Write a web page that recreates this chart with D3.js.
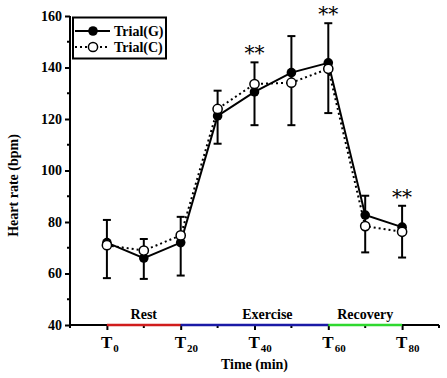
<!DOCTYPE html>
<html>
<head>
<meta charset="utf-8">
<script src="https://cdn.jsdelivr.net/npm/d3@7"></script>
<style>
  html, body { margin: 0; padding: 0; background: #fff; }
  svg { display: block; font-family: "Liberation Serif", "Times New Roman", serif; }
</style>
</head>
<body>
<svg id="chart" width="447" height="378"></svg>
<script>
// ---- data ----
const times = [0, 10, 20, 30, 40, 50, 60, 70, 80];
const trialG = [72, 66, 72, 121.2, 130.5, 138, 141.8, 82.7, 78];
const trialC = [71, 68.9, 74.8, 123.9, 133.6, 134.1, 139.5, 78.4, 76.2];
const errHigh = [80.8, 73.4, 82, 131, 142, 152.2, 157.2, 90.2, 86.3];
const errLow = [58.2, 57.9, 59.2, 110.4, 117.6, 117.6, 122.3, 68.2, 66.2];
const sigTimes = [40, 60, 80];
const xMajorTicks = [0, 20, 40, 60, 80];
const xMinorTicks = [-10, 10, 30, 50, 70, 90];
const xTickSubs = ["0", "20", "40", "60", "80"];
const yMajorTicks = [40, 60, 80, 100, 120, 140, 160];
const yMinorTicks = [50, 70, 90, 110, 130, 150];
const phaseNames = ["Rest", "Exercise", "Recovery"];
const phaseStart = [0, 20, 60];
const phaseEnd = [20, 60, 80];
const phaseLabelAt = [10, 43.5, 70];
const phaseColors = ["#d01c1c", "#1a1aa6", "#2fd82f"];
const seriesNames = ["Trial(G)", "Trial(C)"];

// ---- scales ----
const svg = d3.select("#chart");
const x = d3.scaleLinear().domain([-10, 90]).range([70, 439]);
const y = d3.scaleLinear().domain([40, 160]).range([325, 16]);

// ---- axes ----
const yAxis = svg.append("g").attr("transform", `translate(${x(-10)},0)`)
  .call(d3.axisLeft(y).tickValues(yMajorTicks).tickSize(5).tickPadding(3).tickFormat(d3.format("d")));
yAxis.select(".domain").attr("stroke", "#000").attr("stroke-width", 2).attr("d", `M0,${y(40)}V${y(160)}`);
yAxis.selectAll(".tick line").attr("stroke-width", 2);
yAxis.selectAll(".tick text").attr("font-size", 14).attr("font-weight", "bold").attr("fill", "#000")
  .attr("font-family", "Liberation Serif, serif");
svg.append("g").selectAll("line").data(yMinorTicks).join("line")
  .attr("x1", x(-10) - 3).attr("x2", x(-10)).attr("y1", d => y(d)).attr("y2", d => y(d))
  .attr("stroke", "#000").attr("stroke-width", 2);

const xAxis = svg.append("g").attr("transform", `translate(0,${y(40)})`)
  .call(d3.axisBottom(x).tickValues(xMajorTicks).tickSize(5).tickFormat(""));
xAxis.select(".domain").attr("stroke", "#000").attr("stroke-width", 2).attr("d", `M${x(-10)},0H${x(90)}`);
xAxis.selectAll(".tick line").attr("stroke-width", 2);
svg.append("g").selectAll("line").data(xMinorTicks).join("line")
  .attr("x1", d => x(d)).attr("x2", d => x(d)).attr("y1", y(40)).attr("y2", y(40) + 3)
  .attr("stroke", "#000").attr("stroke-width", 2);

// x tick labels T with subscripts
const xl = svg.append("g");
xMajorTicks.forEach((t, i) => {
  const txt = xl.append("text").attr("x", x(t) - 6).attr("y", 348)
    .attr("font-weight", "bold").attr("fill", "#000");
  txt.append("tspan").attr("font-size", 17).text("T");
  txt.append("tspan").attr("font-size", 11).attr("dy", 4).attr("dx", 1).text(xTickSubs[i]);
});

// axis titles
svg.append("text").attr("x", (x(-10) + x(90)) / 2).attr("y", 369).attr("text-anchor", "middle")
  .attr("font-size", 14).attr("font-weight", "bold").text("Time (min)");
svg.append("text").attr("transform", `translate(18,${(y(40) + y(160)) / 2 + 15}) rotate(-90)`)
  .attr("text-anchor", "middle").attr("font-size", 14).attr("font-weight", "bold").text("Heart rate (bpm)");

// phase bars
const ph = svg.append("g");
phaseNames.forEach((name, i) => {
  ph.append("line").attr("x1", x(phaseStart[i])).attr("x2", x(phaseEnd[i]))
    .attr("y1", y(40)).attr("y2", y(40)).attr("stroke", phaseColors[i]).attr("stroke-width", 2.5);
  ph.append("text").attr("x", x(phaseLabelAt[i])).attr("y", 319).attr("text-anchor", "middle")
    .attr("font-size", 14).attr("font-weight", "bold").text(name);
});

// ---- series ----
const dataG = times.map((t, i) => ({ t, v: trialG[i] }));
const dataC = times.map((t, i) => ({ t, v: trialC[i] }));
const line = d3.line().x(d => x(d.t)).y(d => y(d.v));

svg.append("path").datum(dataC).attr("d", line).attr("fill", "none")
  .attr("stroke", "#000").attr("stroke-width", 2).attr("stroke-dasharray", "2,3");
svg.append("path").datum(dataG).attr("d", line).attr("fill", "none")
  .attr("stroke", "#000").attr("stroke-width", 2);

// error bars
const eb = svg.append("g").attr("stroke", "#000").attr("stroke-width", 2);
times.forEach((t, i) => {
  eb.append("line").attr("x1", x(t)).attr("x2", x(t)).attr("y1", y(errLow[i])).attr("y2", y(errHigh[i]));
  eb.append("line").attr("x1", x(t) - 4).attr("x2", x(t) + 4).attr("y1", y(errLow[i])).attr("y2", y(errLow[i]));
  eb.append("line").attr("x1", x(t) - 4).attr("x2", x(t) + 4).attr("y1", y(errHigh[i])).attr("y2", y(errHigh[i]));
});

svg.append("g").selectAll("circle").data(dataG).join("circle")
  .attr("cx", d => x(d.t)).attr("cy", d => y(d.v)).attr("r", 4.8).attr("fill", "#000");
svg.append("g").selectAll("circle").data(dataC).join("circle")
  .attr("cx", d => x(d.t)).attr("cy", d => y(d.v)).attr("r", 4.6)
  .attr("fill", "#fff").attr("stroke", "#000").attr("stroke-width", 1.5);

// significance marks
sigTimes.forEach(t => {
  const i = times.indexOf(t);
  svg.append("text").attr("x", x(t)).attr("y", y(errHigh[i]) - 2).attr("text-anchor", "middle")
    .attr("font-size", 20).attr("font-family", "DejaVu Serif, serif").text("**");
});

// ---- legend ----
const lg = svg.append("g");
lg.append("rect").attr("x", 73).attr("y", 17.5).attr("width", 93).attr("height", 41)
  .attr("fill", "#fff").attr("stroke", "#000").attr("stroke-width", 2);
[31, 47].forEach((ly, i) => {
  lg.append("line").attr("x1", 75).attr("x2", 110).attr("y1", ly).attr("y2", ly)
    .attr("stroke", "#000").attr("stroke-width", 2).attr("stroke-dasharray", i === 0 ? null : "2,3");
  lg.append("circle").attr("cx", 93).attr("cy", ly).attr("r", i === 0 ? 4.8 : 4.6)
    .attr("fill", i === 0 ? "#000" : "#fff").attr("stroke", "#000").attr("stroke-width", i === 0 ? 0 : 1.5);
  lg.append("text").attr("x", 114).attr("y", ly + 5).attr("font-size", 14).attr("font-weight", "bold")
    .text(seriesNames[i]);
});
</script>
</body>
</html>
